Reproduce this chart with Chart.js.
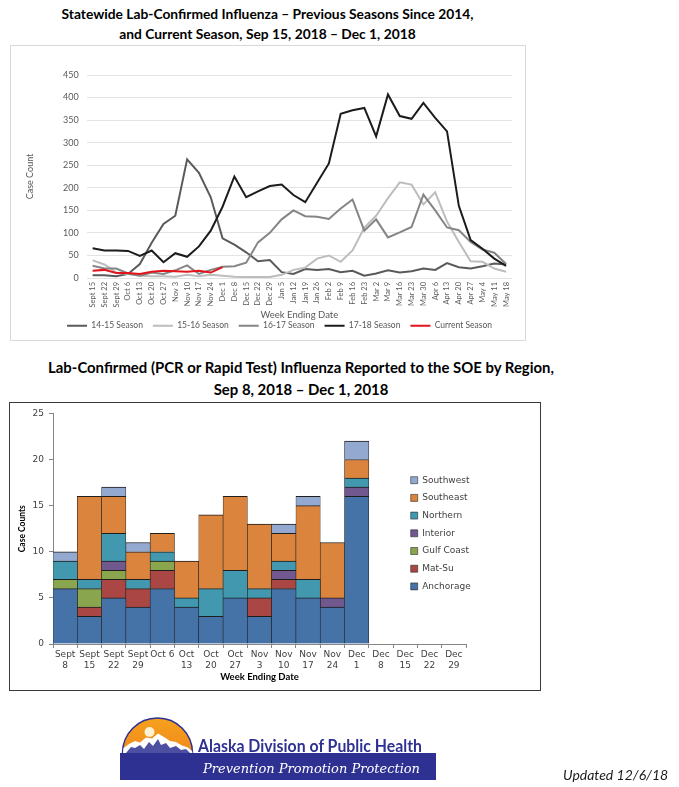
<!DOCTYPE html>
<html><head><meta charset="utf-8">
<script src="https://cdn.jsdelivr.net/npm/chart.js@4.4.1/dist/chart.umd.min.js"></script>
<style>
html,body{margin:0;padding:0;background:#fff}
body{width:679px;height:787px;position:relative;overflow:hidden;font-family:Lato,sans-serif}
.ttl{position:absolute;left:0;font-family:Lato,sans-serif;font-weight:bold;color:#000;text-align:center;white-space:nowrap}
#t1{width:535px;top:4px;font-size:13.8px;line-height:20px}
#t2{width:602px;top:356px;font-size:14.9px;line-height:22px}
#box1{position:absolute;left:10px;top:45px;width:516px;height:296px;border:1px solid #d9d9d9;box-sizing:border-box}
#box2{position:absolute;left:9px;top:402px;width:532px;height:289px;border:1px solid #3a3a3a;box-sizing:border-box}
.wrap{position:relative}
#w1{width:514px;height:294px}
#w2{width:530px;height:287px}
#upd{position:absolute;left:563px;top:766px;font-family:Lato,sans-serif;font-style:italic;font-size:14px;color:#1a1a1a;white-space:nowrap}
#logo{position:absolute;left:0;top:0}
</style></head>
<body>
<div id="t1" class="ttl">Statewide Lab-Confirmed Influenza – Previous Seasons Since 2014,<br>and Current Season, Sep 15, 2018 – Dec 1, 2018</div>
<div id="box1"><div id="w1" class="wrap"><canvas id="c1"></canvas></div></div>
<div id="t2" class="ttl">Lab-Confirmed (PCR or Rapid Test) Influenza Reported to the SOE by Region,<br>Sep 8, 2018 – Dec 1, 2018</div>
<div id="box2"><div id="w2" class="wrap"><canvas id="c2"></canvas></div></div>
<svg id="logo" width="679" height="787" xmlns="http://www.w3.org/2000/svg">
  <defs>
    <linearGradient id="og" x1="0" y1="0" x2="0" y2="1">
      <stop offset="0" stop-color="#f6a11c"/>
      <stop offset="1" stop-color="#f08a1d"/>
    </linearGradient>
  </defs>
  <rect x="120" y="753" width="316" height="27" fill="#2e3192"/>
  <path d="M122.5,753 A35,35 0 0 1 192.5,753 Z" fill="url(#og)" stroke="#2e3192" stroke-width="1.5"/>
  <circle cx="149.5" cy="732" r="5" fill="#fff2d2"/>
  <path d="M123,753 L123.5,748 L129,744 L135,741 L140,742.5 L146,737.5 L152,738.5 L158,733.5 L164,737 L170,741 L176,742 L182,745.5 L188,747.5 L192,751 L192.5,753 Z" fill="#ffffff"/>
  <path d="M126,753 L131,747 L135,748 L140,745 L144,749 L149,742 L153,746 L158,739 L161,745 L166,743 L170,748 L176,746 L181,750 L186,749 L190,753 Z" fill="#2e3192" opacity="0.85"/>
  <text x="198" y="752" font-family="Lato, sans-serif" font-weight="bold" font-size="16.5" fill="#2e3192" textLength="224" lengthAdjust="spacingAndGlyphs">Alaska Division of Public Health</text>
  <text x="203" y="773" font-family="'DejaVu Serif', serif" font-style="italic" font-size="13.5" fill="#ffffff" textLength="217" lengthAdjust="spacingAndGlyphs">Prevention Promotion Protection</text>
</svg>
<div id="upd">Updated 12/6/18</div>
<script>
// ---------- Chart 1 data ----------
const weeks = ['Sept 15','Sept 22','Sept 29','Oct 6','Oct 13','Oct 20','Oct 27','Nov 3','Nov 10','Nov 17','Nov 24','Dec 1','Dec 8','Dec 15','Dec 22','Dec 29','Jan 5','Jan 12','Jan 19','Jan 26','Feb 2','Feb 9','Feb 16','Feb 23','Mar 2','Mar 9','Mar 16','Mar 23','Mar 30','Apr 6','Apr 13','Apr 20','Apr 27','May 4','May 11','May 18'];
const season1415 = [6,6,4,9,31,78,120,138,263,233,179,88,74,57,37,40,13,9,20,18,20,13,16,5,10,17,12,15,21,18,33,24,21,26,32,30];
const season1516 = [39,30,12,9,5,4,4,3,7,4,7,5,3,2,2,2,7,18,23,43,50,36,61,112,138,177,212,207,163,190,125,80,37,36,21,14];
const season1617 = [27,21,21,10,5,12,9,17,28,9,18,25,26,34,79,100,130,150,137,136,131,154,174,105,130,90,101,113,185,150,112,106,80,63,56,31];
const season1718 = [66,61,61,60,49,61,35,55,47,70,105,158,225,179,192,204,207,184,168,211,254,364,372,377,314,407,359,353,388,355,325,160,84,65,43,27];
const currentSeason = [16,18,11,11,9,14,16,15,14,16,12,24];
const seasonNames = ['14-15 Season','15-16 Season','16-17 Season','17-18 Season','Current Season'];
const yTicks1 = [0,50,100,150,200,250,300,350,400,450];

// ---------- Chart 2 data ----------
const regionWeeks = [['Sept','8'],['Sept','15'],['Sept','22'],['Sept','29'],'Oct 6',['Oct','13'],['Oct','20'],['Oct','27'],['Nov','3'],['Nov','10'],['Nov','17'],['Nov','24'],['Dec','1'],['Dec','8'],['Dec','15'],['Dec','22'],['Dec','29']];
const anchorage = [6,3,5,4,6,4,3,5,3,6,5,4,16];
const matSu     = [0,1,2,2,2,0,0,0,2,1,0,0,0];
const gulfCoast = [1,2,1,0,1,0,0,0,0,0,0,0,0];
const interior  = [0,0,1,0,0,0,0,0,0,1,0,1,1];
const northern  = [2,1,3,1,1,1,3,3,1,1,2,0,1];
const southeast = [0,9,4,3,2,4,8,8,7,3,8,6,2];
const southwest = [1,0,1,1,0,0,0,0,0,1,1,0,2];
const regionNames = ['Anchorage','Mat-Su','Gulf Coast','Interior','Northern','Southeast','Southwest'];

// ---------- Chart 1 ----------
const lineColors = ['#5a5a5a','#bdbdbd','#858585','#1c1c1c','#e3141b'];
const lineSeries = [season1415, season1516, season1617, season1718, currentSeason];
const drawOrder = [4,3,2,1,0];
const txt1 = '#595959';
new Chart(document.getElementById('c1'), {
  type: 'line',
  data: {
    labels: weeks,
    datasets: lineSeries.map((d,i)=>({
      label: seasonNames[i], data: d,
      borderColor: lineColors[i], backgroundColor: lineColors[i],
      borderWidth: 2, pointRadius: 0, tension: 0, fill: false, order: drawOrder[i]
    }))
  },
  options: {
    responsive: true, maintainAspectRatio: false, animation: false,
    layout: { padding: { left: 36, right: 13, top: 29, bottom: 0 } },
    plugins: {
      tooltip: { enabled: false },
      legend: {
        position: 'bottom',
        labels: {
          font: { family: 'Lato', size: 8.5 }, color: txt1,
          boxWidth: 20, boxHeight: 2, padding: 10,
          sort: (a,b) => a.datasetIndex - b.datasetIndex,
          generateLabels: (chart) => Chart.defaults.plugins.legend.labels.generateLabels(chart).map(l => Object.assign(l, { lineWidth: 0, fillStyle: l.strokeStyle }))
        }
      }
    },
    scales: {
      x: {
        offset: true,
        afterFit: (s) => { s.height = 33.5; },
        grid: { display: false, drawTicks: false }, border: { display: false },
        ticks: { autoSkip: false, minRotation: 90, maxRotation: 90, padding: 4, font: { family: 'Lato', size: 7.5 }, color: txt1 },
        title: { display: true, text: 'Week Ending Date', font: { family: 'Lato', size: 9.5 }, color: txt1, padding: { top: 0, bottom: -9.2 } }
      },
      y: {
        min: 0, max: 450,
        afterFit: (s) => { s.width = 39.7; },
        afterBuildTicks: (s) => { s.ticks = yTicks1.map(v => ({ value: v })); },
        grid: { color: '#d9d9d9', lineWidth: 0.75, drawTicks: false }, border: { display: false },
        ticks: { padding: 8, font: { family: 'Lato', size: 9 }, color: txt1 },
        title: { display: true, text: 'Case Count', font: { family: 'Lato', size: 9 }, color: txt1, padding: { top: -22.4, bottom: 0 } }
      }
    }
  }
});

// ---------- Chart 2 ----------
const regionColors = ['#4572a7','#aa4643','#89a54e','#71588f','#4198af','#db843d','#93a9cf'];
const regionSeries = [anchorage, matSu, gulfCoast, interior, northern, southeast, southwest];
const txt2 = '#404040';
const legendMover = {
  id: 'legendMover',
  afterLayout(chart) {
    const lg = chart.legend; if (!lg) return;
    const w = lg.width, h = lg.height;
    lg.left = 392; lg.right = 392 + w; lg.top = 64; lg.bottom = 64 + h;
  }
};
new Chart(document.getElementById('c2'), {
  type: 'bar',
  data: {
    labels: regionWeeks,
    datasets: regionSeries.map((d,i)=>({
      label: regionNames[i], data: d.map(v => v === 0 ? null : v),
      backgroundColor: regionColors[i], borderColor: '#1e1e1e',
      borderWidth: { top: 1, left: 0.6, right: 0.6, bottom: 0 },
      barPercentage: 1, categoryPercentage: 1
    }))
  },
  plugins: [legendMover],
  options: {
    responsive: true, maintainAspectRatio: false, animation: false,
    layout: { padding: { left: 0, right: 74, top: 7, bottom: 0 } },
    plugins: {
      tooltip: { enabled: false },
      legend: {
        position: 'chartArea', align: 'start', reverse: true,
        labels: { font: { family: 'DejaVu Sans', size: 9 }, color: txt2, boxWidth: 7, boxHeight: 7, padding: 8.7 }
      }
    },
    scales: {
      x: {
        stacked: true,
        afterFit: (s) => { s.height = 46; },
        grid: { drawOnChartArea: false, drawTicks: true, tickLength: 4, color: '#868686', offset: true },
        border: { color: '#868686' },
        ticks: { autoSkip: false, maxRotation: 0, padding: 1.3, font: { family: 'DejaVu Sans', size: 9 }, color: txt2 },
        title: { display: true, text: 'Week Ending Date', font: { family: 'Lato', size: 9.5, weight: 'bold' }, color: '#000', padding: { top: 0, bottom: 7.3 } }
      },
      y: {
        stacked: true, min: 0, max: 25,
        afterFit: (s) => { s.width = 43; },
        grid: { drawOnChartArea: false, drawTicks: true, tickLength: 4, color: '#868686' },
        border: { color: '#868686' },
        ticks: { stepSize: 5, padding: 5, font: { family: 'DejaVu Sans', size: 9 }, color: txt2 },
        title: { display: true, text: 'Case Counts', font: { family: 'Lato', size: 8.5, weight: 'bold' }, color: '#000', padding: { top: 6.9, bottom: 0 } }
      }
    }
  }
});
</script>
</body></html>
